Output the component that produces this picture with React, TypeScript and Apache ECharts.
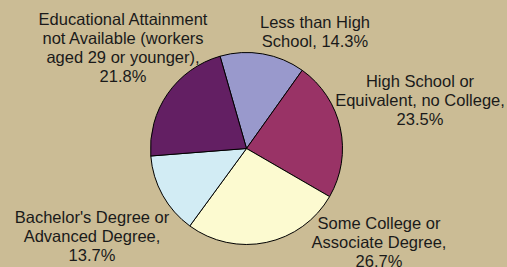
import React, { useEffect, useRef } from "react";
import * as echarts from "echarts";

const categories = [
  "Less than High School",
  "High School or Equivalent, no College",
  "Some College or Associate Degree",
  "Bachelor's Degree or Advanced Degree",
  "Educational Attainment not Available (workers aged 29 or younger)",
];
const values = [14.3, 23.5, 26.7, 13.7, 21.8];
const labelTemplates = [
  "Less than High\nSchool, {v}%",
  "High School or\nEquivalent, no College,\n{v}%",
  "Some College or\nAssociate Degree,\n{v}%",
  "Bachelor's Degree or\nAdvanced Degree,\n{v}%",
  "Educational Attainment\nnot Available (workers\naged 29 or younger),\n{v}%",
];
const colors = ["#9999CC", "#993366", "#FCFAD0", "#D2ECF4", "#631F63"];
const labelPos: [number, number][] = [
  [315, 31],
  [420, 100],
  [379, 242],
  [92, 236],
  [123, 47],
];

export default function App() {
  const ref = useRef<HTMLDivElement>(null);
  useEffect(() => {
    if (!ref.current) return;
    const chart = echarts.init(ref.current, null, { renderer: "svg" });
    chart.setOption({
      animation: false,
      backgroundColor: "#CBBC95",
      series: [
        {
          type: "pie",
          center: [246.5, 148.5],
          radius: 96,
          startAngle: 106,
          clockwise: true,
          avoidLabelOverlap: false,
          data: categories.map((name, i) => ({
            name,
            value: values[i],
            itemStyle: { color: colors[i] },
          })),
          itemStyle: { borderColor: "#000", borderWidth: 1 },
          label: {
            show: true,
            position: "outside",
            fontFamily: "Liberation Sans, Arial, sans-serif",
            fontSize: 16.5,
            lineHeight: 19,
            color: "#1a1a1a",
            align: "center",
            overflow: "none",
            width: 300,
            formatter: (p: any) =>
              labelTemplates[p.dataIndex].replace("{v}", values[p.dataIndex].toFixed(1)),
          },
          labelLine: { show: false },
          labelLayout: (p: any) => ({
            x: labelPos[p.dataIndex][0],
            y: labelPos[p.dataIndex][1],
            align: "center",
            verticalAlign: "middle",
            hideOverlap: false,
          }),
          emphasis: { disabled: true },
        },
      ],
    });
    return () => chart.dispose();
  }, []);
  return (
    <div
      ref={ref}
      style={{ position: "fixed", left: 0, top: 0, width: 507, height: 267 }}
    />
  );
}
